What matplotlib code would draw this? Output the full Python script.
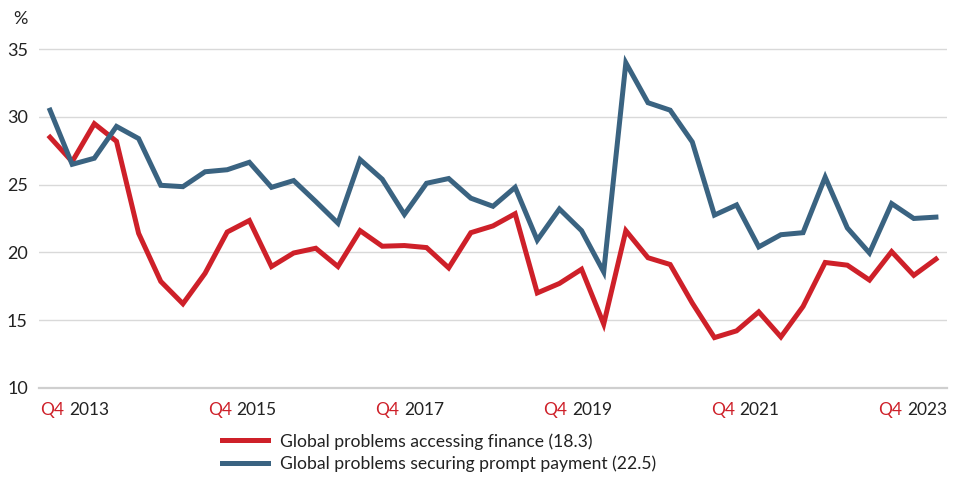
import numpy as np
import matplotlib as mpl
mpl.use("Agg")
from matplotlib import pyplot as plt
import matplotlib.transforms as mtransforms

# quarterly series, Q4 2013 .. Q4 2023
finance = [28.5, 26.7, 29.5, 28.2, 21.4, 17.85, 16.2, 18.45, 21.5, 22.35,
           18.95, 19.95, 20.3, 18.95, 21.6, 20.45, 20.5, 20.35, 18.85, 21.45,
           21.95, 22.85, 17.0, 17.7, 18.75, 14.7, 21.6, 19.6, 19.1, 16.25,
           13.7, 14.2, 15.6, 13.75, 16.0, 19.25, 19.05, 17.95, 20.05, 18.3,
           19.5]
payment = [30.5, 26.5, 26.95, 29.3, 28.4, 24.95, 24.85, 25.95, 26.1, 26.65,
           24.8, 25.3, 23.75, 22.15, 26.85, 25.4, 22.8, 25.1, 25.45, 24.0,
           23.4, 24.8, 20.9, 23.2, 21.6, 18.55, 34.0, 31.05, 30.5, 28.15,
           22.75, 23.5, 20.4, 21.3, 21.45, 25.55, 21.8, 19.95, 23.6, 22.5,
           22.6]
label_years = ["2013", "2015", "2017", "2019", "2021", "2023"]
y_ticks = [10, 15, 20, 25, 30, 35]
legend_labels = ["Global problems accessing finance (18.3)",
                 "Global problems securing prompt payment (22.5)"]

RED = "#CE2029"
BLUE = "#3A6381"
TXT = "#222222"

plt.rcParams['font.family'] = ['Lato', 'DejaVu Sans']

f = plt.figure(figsize=(9.62, 4.8), dpi=100)
ax = f.add_axes([0.0405, 0.1923, 0.9439, 0.7192])

x = np.arange(len(finance))
l1, = ax.plot(x, finance, color=RED, lw=3.6, solid_joinstyle='miter', zorder=3)
l2, = ax.plot(x, payment, color=BLUE, lw=3.6, solid_joinstyle='miter', zorder=3)

ax.set_xlim(-0.5, len(finance) - 0.5)
ax.set_ylim(10, 35.5)
ax.set_yticks(y_ticks)
ax.set_yticklabels([str(v) for v in y_ticks], fontsize=13, color=TXT)
ax.tick_params(axis='y', length=0, pad=8)
ax.set_xticks([])
ax.grid(axis='y', color='#D9D9D9', lw=1.0)
ax.set_axisbelow(True)
for s in ['top', 'right', 'left']:
    ax.spines[s].set_visible(False)
ax.spines['bottom'].set_color('#CFCFCF')
ax.spines['bottom'].set_linewidth(1.6)

# two-colour x labels, spread evenly along the axis
trans = mtransforms.blended_transform_factory(ax.transData, ax.transAxes)
pos = np.linspace(0.63, 38.49, len(label_years))
for p, yr in zip(pos, label_years):
    ax.annotate("Q4", xy=(p, -0.065), xycoords=trans, ha='right', va='center',
                fontsize=12.5, color=RED)
    ax.annotate(yr, xy=(p, -0.065), xycoords=trans, xytext=(3.5, 0),
                textcoords='offset points', ha='left', va='center',
                fontsize=12.5, color=TXT)

f.text(0.0208, 1 - 19 / 480, "%", ha='center', va='center', fontsize=13, color=TXT)

leg = f.legend([l1, l2], legend_labels, loc='upper left',
               bbox_to_anchor=(0.2308, 0.098), frameon=False, fontsize=12.6,
               handlelength=2.6, handletextpad=0.7, labelspacing=0.33,
               borderpad=0, borderaxespad=0)
for t in leg.get_texts():
    t.set_color(TXT)

f.savefig("out.png", dpi=100)
